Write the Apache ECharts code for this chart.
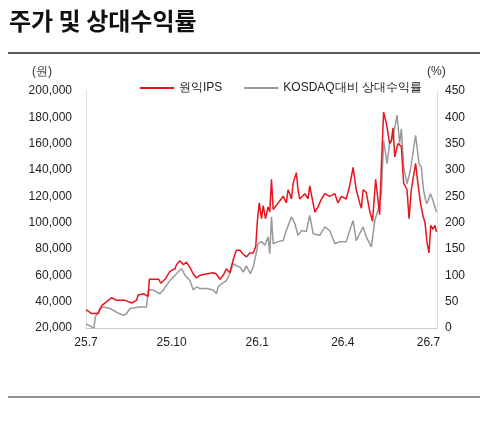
<!DOCTYPE html><html><head><meta charset="utf-8"><script src="https://cdn.jsdelivr.net/npm/echarts@6/dist/echarts.min.js"></script>
<style>body{margin:0;background:#fff}#c{width:500px;height:422px}</style></head><body><div id="c"></div><script>
const xLabels={0:'25.7',3:'25.10',6:'26.1',9:'26.4',12:'26.7'};
const redX=[0,.2,.43,.55,.78,.9,1.07,1.37,1.6,1.77,1.83,2.01,2.18,2.22,2.55,2.62,2.77,2.94,3.12,3.17,3.29,3.41,3.52,3.64,3.76,3.87,3.99,4.22,4.46,4.57,4.69,4.81,4.92,5.04,5.1,5.16,5.27,5.39,5.51,5.62,5.74,5.86,5.95,6.0,6.07,6.15,6.21,6.29,6.38,6.44,6.5,6.56,6.73,6.91,7.02,7.08,7.14,7.2,7.26,7.37,7.43,7.49,7.67,7.78,7.84,8.02,8.13,8.25,8.37,8.54,8.72,8.83,8.95,9.12,9.24,9.36,9.47,9.59,9.65,9.71,9.82,9.94,10.04,10.15,10.29,10.35,10.43,10.53,10.64,10.7,10.76,10.82,10.93,11.05,11.13,11.25,11.32,11.4,11.46,11.55,11.63,11.72,11.81,11.88,11.95,12.02,12.08,12.16,12.23,12.28];
const redY=[34000,31000,31000,37000,41000,43000,41000,41000,39000,41000,45000,46000,44000,57000,57000,54000,57000,63000,65000,68000,71000,68000,70000,66000,61000,58000,60000,61000,62000,61000,57000,60000,65000,62000,67000,72000,79000,79000,76000,74000,77000,77000,82000,100000,115000,103000,113000,103000,112000,108000,133000,110000,115000,120000,115000,125000,122000,118000,130000,138000,125000,118000,122000,118000,128000,108000,112000,118000,122000,120000,122000,115000,120000,118000,128000,142000,125000,115000,111000,125000,123000,109000,101000,133000,106000,143000,184000,175000,160000,162000,172000,150000,160000,158000,130000,125000,103000,125000,125000,145000,130000,115000,105000,100000,85000,77000,98000,95000,98000,93000];
const grayX=[0,.2,.28,.32,.49,.61,.84,1.07,1.31,1.42,1.54,1.89,2.12,2.18,2.36,2.59,2.71,2.82,2.94,3.17,3.35,3.47,3.64,3.76,3.87,3.99,4.22,4.46,4.57,4.63,4.75,4.92,5.04,5.16,5.27,5.39,5.51,5.62,5.76,5.86,5.95,6.03,6.15,6.27,6.38,6.44,6.5,6.56,6.73,6.91,7.02,7.2,7.32,7.43,7.55,7.72,7.84,7.96,8.19,8.37,8.54,8.72,8.89,9.12,9.24,9.36,9.47,9.59,9.71,9.82,10.0,10.12,10.23,10.35,10.43,10.55,10.64,10.76,10.9,10.99,11.05,11.13,11.25,11.37,11.55,11.67,11.75,11.83,11.93,11.99,12.07,12.16,12.28];
const grayY=[8,2,0,20,37,40,37,30,24,27,37,40,40,72,72,65,72,81,90,103,113,100,90,72,78,75,75,72,65,78,84,90,103,122,118,116,106,118,103,116,138,160,164,157,173,141,211,160,164,166,185,211,198,176,185,183,214,179,176,192,185,160,164,164,185,204,166,179,192,173,154,204,223,255,356,312,350,363,404,350,378,306,274,300,366,312,306,261,236,242,255,242,220];
const F='"Liberation Sans",Arial,sans-serif';
const ch=echarts.init(document.getElementById('c'));
ch.setOption({animation:false,
graphic:[{type:'text',left:9,top:9,style:{text:'주가 및 상대수익률',font:'bold 24px "Noto Sans CJK KR"',fill:'#111'}},
{type:'line',shape:{x1:8,y1:53,x2:480,y2:53},style:{stroke:'#222',lineWidth:1.5}},
{type:'line',shape:{x1:8,y1:397,x2:480,y2:397},style:{stroke:'#222',lineWidth:1}},
{type:'text',left:32,top:66,style:{text:'(원)',font:'12px '+F,fill:'#333'}},
{type:'text',left:427,top:66,style:{text:'(%)',font:'12px '+F,fill:'#333'}}],
legend:{top:77,left:135,itemWidth:34,itemHeight:2,itemGap:22,icon:'rect',textStyle:{fontSize:12,color:'#222',fontFamily:F},data:['원익IPS','KOSDAQ대비 상대수익률']},
grid:{left:86,right:63,top:91,bottom:94},
xAxis:{type:'value',min:0,max:12.3,interval:3,axisLine:{lineStyle:{color:'#ccc'}},axisTick:{show:false},splitLine:{show:false},
axisLabel:{color:'#222',fontSize:12,fontFamily:F,margin:9,formatter:v=>xLabels[v]||'',showMaxLabel:false}},
yAxis:[{type:'value',min:20000,max:200000,interval:20000,axisLine:{show:true,lineStyle:{color:'#ddd'}},axisTick:{show:false},splitLine:{show:false},
axisLabel:{color:'#222',fontSize:12,fontFamily:F,margin:14,formatter:v=>v.toLocaleString('en-US')}},
{type:'value',min:0,max:450,interval:50,axisLine:{show:true,lineStyle:{color:'#ddd'}},axisTick:{show:false},splitLine:{show:false},
axisLabel:{color:'#222',fontSize:12,fontFamily:F,margin:8}}],
series:[{name:'원익IPS',type:'line',yAxisIndex:0,symbol:'none',z:3,lineStyle:{color:'#e8141e',width:1.5},itemStyle:{color:'#e8141e'},data:redX.map((x,i)=>[x,redY[i]])},
{name:'KOSDAQ대비 상대수익률',type:'line',yAxisIndex:1,symbol:'none',z:2,lineStyle:{color:'#999',width:1.5},itemStyle:{color:'#999'},data:grayX.map((x,i)=>[x,grayY[i]])}]});
</script></body></html>
